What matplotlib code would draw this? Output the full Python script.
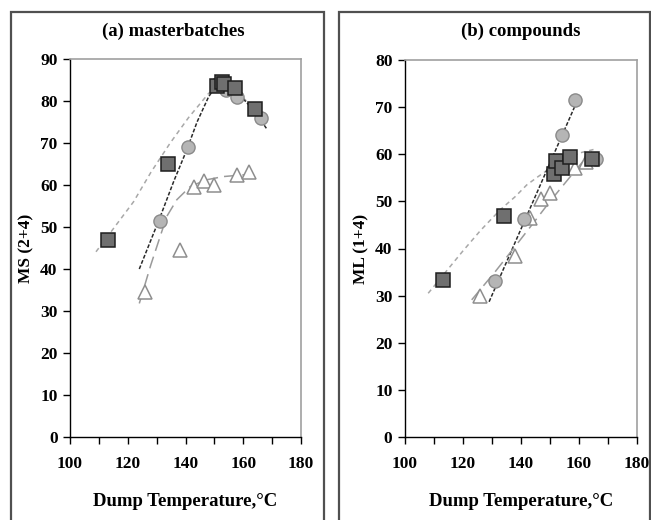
import numpy as np
import matplotlib.pyplot as plt
from matplotlib.patches import Rectangle

SERIF = ["Liberation Serif", "DejaVu Serif"]
plt.rcParams.update({"font.family": SERIF, "font.weight": "bold"})

SQ_FACE, SQ_EDGE = "#6f6f6f", "#1e1e1e"
CI_FACE, CI_EDGE = "#b5b5b5", "#8a8a8a"
TR_EDGE = "#8e8e8e"
LN_SQ, LN_CI, LN_TR = "#a8a8a8", "#2a2a2a", "#9a9a9a"

# ── (a) masterbatches: MS(2+4) vs dump temperature ─────────────────────────
a_sq_x = [113, 134, 151, 152.5, 153.5, 157, 164]
a_sq_y = [47, 65, 83.5, 84.5, 84, 83, 78]
a_ci_x = [131, 141, 151, 154, 158, 166]
a_ci_y = [51.5, 69, 84, 82.6, 81, 76]
a_tr_x = [126, 138, 143, 146.5, 150, 158, 162]
a_tr_y = [34.5, 44.5, 59.5, 61, 60, 62.5, 63]

# trendlines
a_sq_fit_x = [109, 116, 122, 128, 134.6, 141, 148, 152, 158, 165]
a_sq_fit_y = [44.1, 50.5, 56, 63, 69.9, 76, 81.8, 83.8, 82, 77.5]
a_ci_fit_x = [124, 131, 136, 140.4, 144, 148, 151, 155, 160, 164, 168]
a_ci_fit_y = [40, 52, 61, 68.3, 75, 81, 84, 83.5, 80.5, 77.5, 73.5]
a_tr_fit_x = [124, 128, 133.5, 137, 141.6, 147, 153, 158, 163.5]
a_tr_fit_y = [31.8, 41, 52.5, 56.5, 59.6, 61.2, 62, 62.3, 62.6]

# ── (b) compounds: ML(1+4) vs dump temperature ─────────────────────────────
b_sq_x = [113, 134, 151.5, 152, 154, 157, 164.5]
b_sq_y = [33.3, 46.8, 55.8, 58.5, 57, 59.5, 59]
b_ci_x = [131, 141, 153, 154, 158.5, 166]
b_ci_y = [33, 46.3, 58, 64, 71.5, 59]
b_tr_x = [126, 138, 143, 147, 150, 158.5, 162.5]
b_tr_y = [30, 38.5, 46.5, 50.5, 51.7, 57, 58.3]

b_sq_fit_x = [108, 114, 120, 126, 132.8, 138, 142, 146, 150, 154, 157, 161, 165]
b_sq_fit_y = [30.5, 35, 39.5, 43.8, 48.2, 51, 53.5, 55.3, 57, 58.5, 59.5, 60.4, 61]
b_ci_fit_x = [129, 159.5]
b_ci_fit_y = [28.7, 71.5]
b_tr_fit_x = [123, 131, 139.7, 145, 150, 154, 158, 161, 164.5]
b_tr_fit_y = [29.1, 35, 41.8, 46, 50, 53, 56, 58.2, 60.5]

fig = plt.figure(figsize=(6.51, 5.2), dpi=100)

# panel frames
for x0, x1 in [(11, 324), (339, 650)]:
    fig.patches.append(Rectangle((x0 / 651, -0.05), (x1 - x0) / 651, 0.05 + (520 - 12) / 520,
                                 transform=fig.transFigure, fill=False,
                                 edgecolor="#505050", linewidth=1.6))


def draw_panel(ax, sq, ci, tr, fits, ymax, ylabel, title, title_x):
    styles = [(LN_SQ, (0, (3, 2.5))), (LN_CI, (0, (2.5, 1.2))), (LN_TR, (0, (8, 4)))]
    for (fx, fy), (col, ls) in zip(fits, styles):
        ax.plot(fx, fy, color=col, linestyle=ls, linewidth=1.1, zorder=2)
    ax.plot(tr[0], tr[1], linestyle="none", marker="^", markersize=10,
            markerfacecolor="white", markeredgecolor=TR_EDGE, markeredgewidth=1.1, zorder=3)
    ax.plot(ci[0], ci[1], linestyle="none", marker="o", markersize=9.5,
            markerfacecolor=CI_FACE, markeredgecolor=CI_EDGE, markeredgewidth=1.0, zorder=4)
    ax.plot(sq[0], sq[1], linestyle="none", marker="s", markersize=9.5,
            markerfacecolor=SQ_FACE, markeredgecolor=SQ_EDGE, markeredgewidth=1.1, zorder=5)

    ax.set_xlim(100, 180)
    ax.set_ylim(0, ymax)
    ax.set_xticks(np.arange(100, 181, 20))
    ax.set_xticks(np.arange(110, 180, 20), minor=True)
    ax.set_yticks(np.arange(0, ymax + 1, 10))
    ax.tick_params(axis="both", which="both", direction="out", length=5, width=1,
                   labelsize=12.5, color="black")
    ax.tick_params(axis="x", pad=9)
    ax.tick_params(axis="y", pad=4)
    for side in ["top", "right"]:
        ax.spines[side].set_color("#a0a0a0")
        ax.spines[side].set_linewidth(1.2)
    for side in ["left", "bottom"]:
        ax.spines[side].set_color("black")
        ax.spines[side].set_linewidth(1.0)
    for lab in ax.get_xticklabels() + ax.get_yticklabels():
        lab.set_fontweight("bold")
    ax.set_ylabel(ylabel, fontsize=12.5, fontweight="bold", labelpad=4)
    ax.set_xlabel("Dump Temperature,°C", fontsize=13.5, fontweight="bold", labelpad=15)
    fig.text(title_x / 651, 1 - 31 / 520, title, fontsize=13.5, fontweight="bold",
             ha="center", va="center")


ax_a = fig.add_axes([70 / 651, 83 / 520, 231 / 651, 378 / 520])
ax_b = fig.add_axes([405 / 651, 83 / 520, 232 / 651, 377 / 520])

draw_panel(ax_a, (a_sq_x, a_sq_y), (a_ci_x, a_ci_y), (a_tr_x, a_tr_y),
           [(a_sq_fit_x, a_sq_fit_y), (a_ci_fit_x, a_ci_fit_y), (a_tr_fit_x, a_tr_fit_y)],
           90, "MS (2+4)", "(a) masterbatches", 173)
draw_panel(ax_b, (b_sq_x, b_sq_y), (b_ci_x, b_ci_y), (b_tr_x, b_tr_y),
           [(b_sq_fit_x, b_sq_fit_y), (b_ci_fit_x, b_ci_fit_y), (b_tr_fit_x, b_tr_fit_y)],
           80, "ML (1+4)", "(b) compounds", 521)

fig.savefig("out.png", dpi=100)
